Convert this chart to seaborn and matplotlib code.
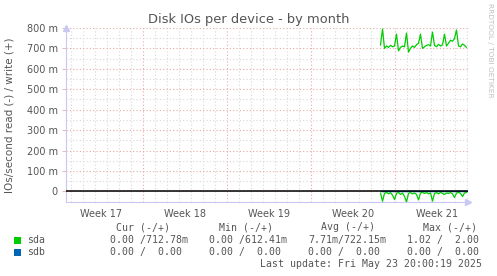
import numpy as np
import pandas as pd
import matplotlib
matplotlib.use("Agg")
import matplotlib.pyplot as plt
import matplotlib.dates as mdates
import seaborn as sns

# ---------------- data ----------------
week_labels = ["Week 17", "Week 18", "Week 19", "Week 20", "Week 21"]
ytick_values = [0, 100, 200, 300, 400, 500, 600, 700, 800]
ytick_labels = ["0", "100 m", "200 m", "300 m", "400 m", "500 m", "600 m", "700 m", "800 m"]

sda_write = [716, 795, 700, 712, 705, 715, 708, 712, 770, 688, 705, 712, 708, 775,
             682, 700, 712, 705, 718, 725, 770, 700, 708, 715, 718, 712, 780, 715,
             708, 720, 712, 718, 770, 712, 725, 740, 735, 748, 790, 712, 708, 722,
             715, 705]
sda_read = [-8, -48, -10, -5, -12, -6, -18, -40, -10, -5, -15, -8, -25, -52,
            -10, -6, -12, -8, -15, -42, -8, -5, -10, -6, -12, -8, -48, -10,
            -6, -12, -5, -10, -15, -8, -10, -6, -12, -30, -8, -5, -10, -25,
            -8, -5]
times = pd.date_range("2025-05-17 19:00", periods=len(sda_write), freq="4h")
sdb_write = [0.0] * len(sda_write)
sdb_read = [0.0] * len(sda_write)

legend_rows = [
    ("sda", "#00CC00", ["0.00 /712.78m", "0.00 /612.41m", "7.71m/722.15m", "1.02 /  2.00"]),
    ("sdb", "#0066B3", ["0.00 /  0.00", "0.00 /  0.00", "0.00 /  0.00", "0.00 /  0.00"]),
]
headers = ["Cur (-/+)", "Min (-/+)", "Avg (-/+)", "Max (-/+)"]

# ---------------- figure ----------------
sns.set_theme(style="white")
plt.rcParams["font.family"] = ["DejaVu Sans"]
W, H = 497, 276
fig = plt.figure(figsize=(W / 100, H / 100), dpi=100)
fig.patch.set_facecolor("white")

def px(x, y):
    return x / W, 1 - y / H

left, right, top, bottom = 66, 468, 28, 202
ax = fig.add_axes([left / W, 1 - bottom / H, (right - left) / W, (bottom - top) / H])
ax.set_facecolor("white")

t0 = pd.Timestamp("2025-04-21 00:00")
xmin = t0 + pd.Timedelta(hours=14)
xmax = t0 + pd.Timedelta(days=34, hours=2)
ax.set_xlim(xmin, xmax)
ax.set_ylim(-52, 800)

# grid
minor_c = "#d8d8d8"
major_c = "#e8a8a8"
for d in range(1, 35):
    t = t0 + pd.Timedelta(days=d)
    if d % 7 == 0:
        ax.axvline(t, color=major_c, lw=0.8, ls=(0, (1, 2)), zorder=1)
    else:
        ax.axvline(t, color=minor_c, lw=0.8, ls=(0, (1, 2)), zorder=1)
for v in range(-50, 801, 50):
    if v % 100 == 0:
        ax.axhline(v, color=major_c, lw=0.8, ls=(0, (1, 2)), zorder=1)
    else:
        ax.axhline(v, color=minor_c, lw=0.8, ls=(0, (1, 2)), zorder=1)

df = pd.DataFrame({"time": times, "write": sda_write, "read": sda_read,
                   "sdb_w": sdb_write, "sdb_r": sdb_read})
sns.lineplot(data=df, x="time", y="sdb_w", ax=ax, color="#0066B3", lw=0.9, zorder=3)
sns.lineplot(data=df, x="time", y="sdb_r", ax=ax, color="#0066B3", lw=0.9, zorder=3)
sns.lineplot(data=df, x="time", y="write", ax=ax, color="#00CC00", lw=0.9, zorder=4)
sns.lineplot(data=df, x="time", y="read", ax=ax, color="#00CC00", lw=0.9, zorder=4)
ax.axhline(0, color="black", lw=1.1, zorder=5)

# axes / ticks
ax.set_xlabel("")
ax.set_ylabel("")
ax.set_yticks(ytick_values)
ax.set_yticklabels(ytick_labels)
ax.tick_params(axis="y", length=3, width=0.6, color=major_c, pad=3,
               labelsize=7, labelcolor="#555555", left=True)
mid_weeks = [t0 + pd.Timedelta(days=3.5 + 7 * i) for i in range(len(week_labels))]
ax.set_xticks(mid_weeks)
ax.set_xticklabels(week_labels)
ax.tick_params(axis="x", length=0, pad=5, labelsize=7, labelcolor="#555555")
for s in ["top", "right"]:
    ax.spines[s].set_visible(False)
ax.spines["left"].set_color("#c8c8f0")
ax.spines["left"].set_linewidth(0.8)
ax.spines["bottom"].set_color("#c8c8f0")
ax.spines["bottom"].set_linewidth(0.8)

# axis arrows
ax.plot([0], [1.0], marker="^", color="#c8c8f0", ms=5, transform=ax.transAxes,
        clip_on=False, zorder=6)
ax.plot([1.0], [0], marker=">", color="#c8c8f0", ms=5, transform=ax.transAxes,
        clip_on=False, zorder=6)

# titles
fig.text(*px(249, 19), "Disk IOs per device - by month", ha="center", va="center",
         fontsize=9.4, color="#555555")
fig.text(*px(10, 115), "IOs/second read (-) / write (+)", rotation=90, ha="center",
         va="center", fontsize=7.5, color="#555555")
fig.text(*px(490, 50), "RRDTOOL / TOBI OETIKER", rotation=270, ha="center",
         va="center", fontsize=5.3, color="#c0c0c0")

# legend
mono = "DejaVu Sans Mono"
hx = [116, 219, 321, 423]
vx = [110, 209, 308, 407]
for x, h in zip(hx, headers):
    fig.text(*px(x, 227), h, ha="left", va="center", fontsize=7.1, family=mono,
             color="#555555")
for i, (name, col, vals) in enumerate(legend_rows):
    y = 240 + 12 * i
    fig.patches.append(plt.Rectangle(px(14, y + 3.5), 7 / W, 7 / H, facecolor=col,
                                     edgecolor="none", transform=fig.transFigure,
                                     figure=fig))
    fig.text(*px(27, y), name, ha="left", va="center", fontsize=7.1, family=mono,
             color="#555555")
    for x, v in zip(vx, vals):
        fig.text(*px(x, y), v, ha="left", va="center", fontsize=7.1, family=mono,
                 color="#555555")
fig.text(*px(482, 264), "Last update: Fri May 23 20:00:19 2025", ha="right",
         va="center", fontsize=7.1, family=mono, color="#555555")

fig.savefig("out.png", dpi=100, facecolor="white")
